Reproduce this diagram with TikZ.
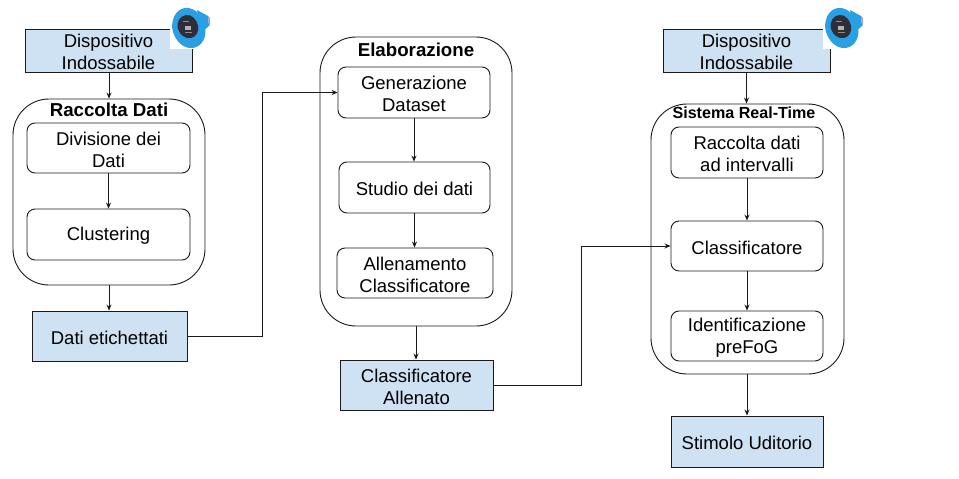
\documentclass[tikz,border=0pt]{standalone}
\usepackage{fontspec}
\setmainfont{Liberation Sans}
\usetikzlibrary{arrows.meta,calc}
\definecolor{boxblue}{HTML}{CFE2F3}
\definecolor{linecol}{HTML}{1A1A1A}
\definecolor{watchblue}{HTML}{2B9FE3}
\definecolor{watchdark}{HTML}{2E2E38}
\tikzset{
  x=1pt,y=-1pt,
  base/.style={draw=linecol,line width=0.9pt,inner sep=0pt},
  boxtext/.style={inner sep=0pt,align=center,text=black,yshift=-1.5pt,font=\fontsize{18.5}{22}\selectfont},
  bluebox/.style={base,fill=boxblue},
  innerbox/.style={base,fill=white,rounded corners=8pt},
  group/.style={base,fill=white,rounded corners=36pt},
  grouptitle/.style={inner sep=0pt,font=\fontsize{18.7}{20}\selectfont\bfseries},
  arrow/.style={draw=linecol,line width=0.8pt,-{Stealth[length=6pt,width=5pt]}},
  watch/.pic={
    \fill[watchblue] (8,-18) -- (19,-12) -- (20,-2) -- (13,4) -- cycle;
    \fill[gray!70] (19,-12) -- (21,-10) -- (21,-3) -- (20,-2) -- cycle;
    \fill[watchblue] (-4,-20) .. controls (6,-21) and (14,-12) .. (16,-2) .. controls (18,8) and (14,18) .. (4,20) .. controls (-6,21) and (-13,13) .. (-16,4) .. controls (-19,-6) and (-14,-19) .. (-4,-20) -- cycle;
    \fill[watchdark] (-3,-13) .. controls (3,-14) and (8,-8) .. (9,-2) .. controls (10,4) and (7,9) .. (2,10) .. controls (-4,11) and (-9,7) .. (-11,1) .. controls (-13,-6) and (-9,-12) .. (-3,-13) -- cycle;
    \fill[white!70!black] (-4,-2) rectangle (2,2);
    \fill[white!55!black] (-4,4) rectangle (3,5);
    \fill[white!55!black] (-6,-7) rectangle (0,-6);
  }
}
\newcommand{\bx}[7]{\node[#6,minimum width={(#4-#2)*1pt},minimum height={(#5-#3)*1pt}] (#1) at ({(#2+#4)/2},{(#3+#5)/2}) {};
  \node[boxtext] (#1t) at (#1.center) {#7};}
\begin{document}
\begin{tikzpicture}
\useasboundingbox (0,0) rectangle (959,479);
% left column
\bx{dev1}{25}{29}{192}{72}{bluebox}{Dispositivo\\Indossabile}
\bx{raccolta}{13}{99}{205}{285}{group}{}
\node[grouptitle] (raccoltat) at (109,110) {Raccolta Dati};
\bx{divisione}{27}{123}{190}{173}{innerbox}{Divisione dei\\Dati}
\bx{clustering}{27}{209}{190}{260}{innerbox}{Clustering}
\bx{dati}{32}{311}{187}{361}{bluebox}{Dati etichettati}
% middle column
\bx{elab}{320}{37}{512}{326}{group}{}
\node[grouptitle] (elabt) at (416,50) {Elaborazione};
\bx{gen}{338}{67}{490}{118}{innerbox}{Generazione\\Dataset}
\bx{studio}{339}{162}{490}{213}{innerbox}{Studio dei dati}
\bx{allen}{337}{248}{493}{298}{innerbox}{Allenamento\\Classificatore}
\bx{classall}{340}{360}{493}{410}{bluebox}{Classificatore\\Allenato}
% right column
\bx{dev2}{663}{29}{830}{72}{bluebox}{Dispositivo\\Indossabile}
\bx{sistema}{651}{104}{844}{374}{group}{}
\node[grouptitle,font=\fontsize{16.1}{18}\selectfont\bfseries] (sistemat) at (744,113) {Sistema Real-Time};
\bx{racdati}{671}{127}{823}{178}{innerbox}{Raccolta dati\\ad intervalli}
\bx{classif}{671}{221}{823}{271}{innerbox}{Classificatore}
\bx{ident}{671}{311}{823}{361}{innerbox}{Identificazione\\preFoG}
\bx{stimolo}{671}{416}{823}{467}{bluebox}{Stimolo Uditorio}
% watches
\fill[white] (170,8) rectangle (193,49);
\fill[white] (823,8) rectangle (831,49);
\pic at (189,28) {watch};
\pic at (842,28) {watch};
% elbows
\coordinate (e1) at (262,336);
\coordinate (e2) at (581,385);
% connectors
\draw[arrow] (dev1.south -| raccolta.north) -- (raccolta.north);
\draw[arrow] (divisione) -- (clustering);
\draw[arrow] (raccolta.south) -- (raccolta.south |- dati.north);
\draw[arrow] (dati.east) -- (e1) |- (gen.west);
\draw[arrow] (gen.south) -- (gen.south |- studio.north);
\draw[arrow] (studio.south) -- (studio.south |- allen.north);
\draw[arrow] (elab.south) -- (elab.south |- classall.north);
\draw[arrow] (classall.east) -- (e2) |- (classif.west);
\draw[arrow] (dev2.south) -- (dev2.south |- sistema.north);
\draw[arrow] (racdati) -- (classif);
\draw[arrow] (classif) -- (ident);
\draw[arrow] (sistema.south -| stimolo.north) -- (stimolo.north);
\end{tikzpicture}
\end{document}
